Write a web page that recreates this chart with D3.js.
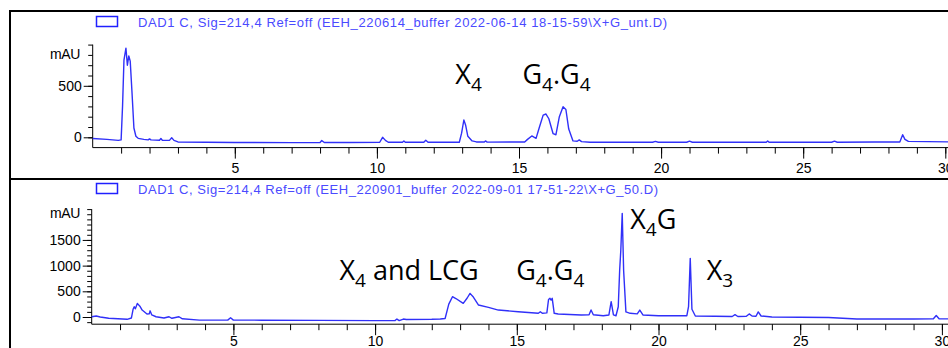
<!DOCTYPE html>
<html>
<head>
<meta charset="utf-8">
<script src="https://cdn.jsdelivr.net/npm/d3@7"></script>
<style>
  body { margin: 0; background: #fff; }
  svg { display: block; }
  .tick-label { font-family: Arial, "Liberation Sans", sans-serif; font-size: 14px; fill: #000; }
  .header { font-family: Arial, "Liberation Sans", sans-serif; font-size: 13px; fill: #4a4aff; }
  .peak-label { font-family: "Open Sans", Lato, sans-serif; font-size: 27px; fill: #000; }
</style>
</head>
<body>
<script>
const width = 948;
const height = 348;

// chromatogram 1 (untreated) - retention time (min) and absorbance (mAU)
const topTime = [0, 0.5, 0.9, 1.0, 1.05, 1.1, 1.17, 1.22, 1.27, 1.32, 1.38, 1.45, 1.52, 1.6, 1.8, 1.95, 2.0, 2.05,
  2.35, 2.4, 2.45, 2.7, 2.78, 2.86, 3.0, 5.0, 7.0, 8.0, 8.06, 8.15, 9.0, 10.1, 10.2, 10.3, 10.4, 10.9, 10.95, 11.0,
  11.65, 11.72, 11.8, 12.9, 12.98, 13.06, 13.12, 13.2, 13.35, 13.5, 13.78, 13.82, 13.88, 15.2, 15.3, 15.45, 15.6,
  15.72, 15.85, 15.95, 16.05, 16.2, 16.3, 16.42, 16.55, 16.65, 16.75, 16.9, 17.05, 17.12, 17.2, 17.5, 19.7, 19.8,
  19.9, 20.9, 21.0, 21.1, 23.7, 23.75, 23.8, 26.0, 26.1, 26.2, 27.5, 28.4, 28.5, 28.58, 28.7, 31.0];
const topMAU = [-12, -20, -30, -25, 300, 750, 865, 700, 790, 740, 450, 90, 10, -10, -20, -25, -15, -25,
  -28, -12, -28, -30, -5, -30, -45, -50, -52, -50, -32, -50, -50, -48, 0, -30, -48, -48, -35, -48,
  -48, -28, -48, -48, 40, 168, 120, 10, -35, -45, -45, -35, -47, -45, -20, 13, -10,
  100, 215, 226, 180, 35, 25, 200, 297, 270, 80, -35, -38, -25, -42, -48, -48, -40,
  -48, -48, -38, -48, -48, -35, -48, -48, -38, -48, -45, -45, 25, -20, -40, -48];

// chromatogram 2 (50 % treatment)
const bottomTime = [0, 0.16, 0.3, 0.6, 1.25, 1.4, 1.46, 1.5, 1.54, 1.61, 1.7, 1.78, 1.95, 2.03, 2.06, 2.12, 2.27,
  2.55, 2.73, 2.83, 3.08, 3.2, 3.8, 4.8, 4.9, 5.0, 6.0, 8.0, 10.0, 10.7, 10.77, 10.85, 10.95, 11.0, 11.1, 12.0,
  12.3, 12.47, 12.6, 12.73, 12.85, 13.11, 13.25, 13.35, 13.45, 13.65, 14.0, 14.35, 15.05, 15.76, 15.83, 15.9, 16.06,
  16.12, 16.17, 16.21, 16.25, 16.32, 16.46, 17.27, 17.55, 17.62, 17.7, 18.05, 18.25, 18.33, 18.41, 18.5, 18.58,
  18.63, 18.67, 18.72, 18.77, 18.85, 19.0, 19.25, 19.34, 19.45, 20.0, 21.0, 21.06, 21.12, 21.18, 21.3, 22.0, 22.6,
  22.7, 22.8, 23.1, 23.2, 23.3, 23.44, 23.52, 23.62, 24.0, 26.0, 27.0, 29.0, 29.7, 29.8, 29.9, 31.0];
const bottomMAU = [5, 20, 0, -25, -45, -20, 150, 200, 160, 265, 210, 135, 58, 60, 120, 40, 5,
  -20, 5, -25, 5, -35, -60, -60, -15, -60, -62, -65, -70, -70, -40, -70, -50, -40, -48, -45,
  -40, -30, 250, 395, 360, 265, 370, 460, 400, 233, 188, 135, 103, 72, 103, 72, 80,
  340, 364, 330, 364, 72, 58, 39, 45, 136, 45, 25, 40, 298, 40, 25, 200,
  914, 1300, 2017, 900, 100, 72, 60, 136, 40, 25, 25, 200, 1142, 150, 20, 15, 10,
  45, 10, 15, 60, 20, 15, 100, 20, 0, -10, -40, -40, -35, 30, -35, -40];

// y axis labels and peak annotations (text, subscripts, anchor time, anchor mAU)
const topYLabels = [0, 500];
const bottomYLabels = [0, 500, 1000, 1500];
const xLabels = [5, 10, 15, 20, 25, 30];
const topHeader = "DAD1 C, Sig=214,4 Ref=off (EEH_220614_buffer 2022-06-14 18-15-59\\X+G_unt.D)";
const bottomHeader = "DAD1 C, Sig=214,4 Ref=off (EEH_220901_buffer 2022-09-01 17-51-22\\X+G_50.D)";
const topPeaks = [
  { parts: [["X", 0], ["4", 1]], t: 12.76, v: 515 },
  { parts: [["G", 0], ["4", 1], [".G", 0], ["4", 1]], t: 15.12, v: 515 }
];
const bottomPeaks = [
  { parts: [["X", 0], ["4", 1], [" and LCG", 0]], t: 8.74, v: 720 },
  { parts: [["G", 0], ["4", 1], [".G", 0], ["4", 1]], t: 14.98, v: 720 },
  { parts: [["X", 0], ["4", 1], ["G", 0]], t: 19.0, v: 1706 },
  { parts: [["X", 0], ["3", 1]], t: 21.7, v: 720 }
];

const svg = d3.select("body").append("svg")
  .attr("width", width)
  .attr("height", height);

// panel frames
svg.append("rect").attr("x", 10).attr("y", 11).attr("width", 960).attr("height", 168)
  .attr("fill", "none").attr("stroke", "#000").attr("stroke-width", 2);
svg.append("rect").attr("x", 10).attr("y", 179).attr("width", 960).attr("height", 200)
  .attr("fill", "none").attr("stroke", "#000").attr("stroke-width", 2);

function drawPanel(cfg) {
  const x = d3.scaleLinear().domain([0, 30]).range(cfg.xRange);
  const y = d3.scaleLinear().domain(cfg.yDomain).range(cfg.yRange);
  const g = svg.append("g");

  // legend + header
  g.append("rect").attr("x", 96.5).attr("y", cfg.headerY - 10.5).attr("width", 21).attr("height", 10)
    .attr("fill", "none").attr("stroke", "#2020ff").attr("stroke-width", 1.5);
  g.append("text").attr("class", "header").attr("x", 138).attr("y", cfg.headerY)
    .attr("textLength", cfg.headerLen).attr("lengthAdjust", "spacing")
    .text(cfg.header);

  // y axis
  const yMinor = d3.range(cfg.yTickStart, cfg.yDomain[1] + 1, 100);
  g.append("g")
    .attr("transform", `translate(${cfg.xRange[0]},0)`)
    .call(d3.axisLeft(y).tickValues(yMinor).tickFormat("")
      .tickSizeInner(4.5).tickSizeOuter(0))
    .call(a => a.select(".domain").attr("d", `M0,${y.range()[0]}V${y.range()[1]}`));
  const ya = g.append("g")
    .attr("transform", `translate(${cfg.xRange[0]},0)`)
    .call(d3.axisLeft(y).tickValues(cfg.yLabels).tickFormat(d3.format("d"))
      .tickSize(9).tickPadding(2).tickSizeOuter(0));
  ya.select(".domain").remove();
  ya.selectAll("text").attr("class", "tick-label").attr("font-size", null).attr("font-family", null);
  g.append("text").attr("class", "tick-label").attr("x", 80).attr("y", y(cfg.mauAt) + 4)
    .attr("text-anchor", "end").attr("font-size", 12).attr("letter-spacing", -0.4).text("mAU");

  // x axis
  const xa = g.append("g")
    .attr("transform", `translate(0,${y.range()[0]})`)
    .call(d3.axisBottom(x).tickValues(d3.range(1, 31)).tickFormat("").tickSizeInner(6).tickSizeOuter(0));
  xa.select(".domain").attr("d", `M${cfg.xRange[0]},0H${width + 20}`);
  const xl = g.append("g")
    .attr("transform", `translate(0,${y.range()[0]})`)
    .call(d3.axisBottom(x).tickValues(xLabels).tickSize(11).tickPadding(cfg.xPad));
  xl.select(".domain").remove();
  xl.selectAll("text").attr("class", "tick-label").attr("font-size", null).attr("font-family", null);
  svg.selectAll(".tick line").attr("stroke", "#000");

  // trace
  const line = d3.line().x(d => x(d[0])).y(d => y(d[1]));
  g.append("path")
    .datum(d3.zip(cfg.time, cfg.mau))
    .attr("d", line)
    .attr("fill", "none")
    .attr("stroke", "#3030f8")
    .attr("stroke-width", 1.4)
    .attr("stroke-linejoin", "round");

  // peak annotations
  cfg.peaks.forEach(p => {
    const t = g.append("text").attr("class", "peak-label")
      .attr("x", x(p.t)).attr("y", y(p.v));
    let low = false;
    p.parts.forEach(([s, sub]) => {
      const ts = t.append("tspan").text(s);
      if (sub) { ts.attr("font-size", 19).attr("dy", low ? 0 : 7); low = true; }
      else if (low) { ts.attr("dy", -7); low = false; }
    });
  });
}

drawPanel({
  xRange: [92.7, 945.3],
  yDomain: [-100, 900],
  yRange: [147.6, 44.6],
  yTickStart: 0,
  yLabels: topYLabels,
  mauAt: 800,
  time: topTime,
  mau: topMAU,
  header: topHeader,
  headerY: 27,
  headerLen: 529,
  xPad: 4,
  peaks: topPeaks
});

drawPanel({
  xRange: [91.7, 941.9],
  yDomain: [-140, 2100],
  yRange: [324.2, 209.1],
  yTickStart: -100,
  yLabels: bottomYLabels,
  mauAt: 2000,
  time: bottomTime,
  mau: bottomMAU,
  header: bottomHeader,
  headerY: 194,
  headerLen: 520,
  xPad: 1,
  peaks: bottomPeaks
});
</script>
</body>
</html>
